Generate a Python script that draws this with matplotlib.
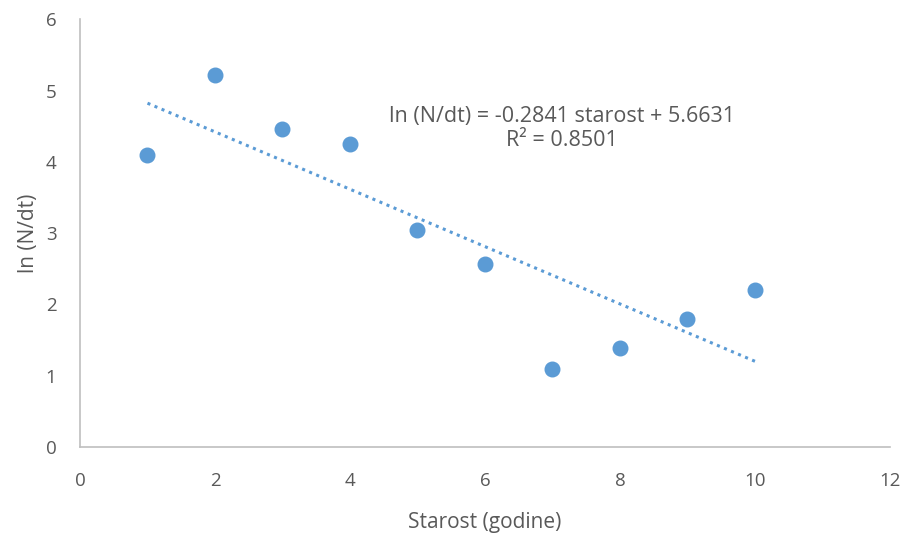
import numpy as np
import matplotlib
matplotlib.use('Agg')

import matplotlib.pyplot as plt

# age in years vs ln(N/dt)
starost = [1, 2, 3, 4, 5, 6, 7, 8, 9, 10]
ln_ndt = [4.10, 5.22, 4.46, 4.25, 3.05, 2.57, 1.10, 1.39, 1.79, 2.20]
eq_text = "ln (N/dt) = -0.2841 starost + 5.6631\nR² = 0.8501"

def main():
    plt.rcParams['font.family'] = ['Open Sans', 'DejaVu Sans']
    color = '#5B9BD5'
    txt = '#595959'

    fig = plt.figure(figsize=(9.06, 5.37), dpi=100)
    ax = fig.add_axes([0.0883, 0.1676, 0.894, 0.7964])

    ax.scatter(starost, ln_ndt, s=110, color=color, zorder=3)

    # linear trendline fitted from the points
    k, n = np.polyfit(starost, ln_ndt, 1)
    xs = np.array([min(starost), max(starost)])
    ax.plot(xs, k * xs + n, color=color, linestyle=(0, (1, 1.5)), linewidth=2.2, zorder=2)

    ax.text(7.14, 4.47, eq_text, ha='center', va='center', fontsize=15.5, color=txt,
            linespacing=1.2)

    ax.set_xlim(0, 12)
    ax.set_ylim(0, 6)
    ax.set_xticks(np.arange(0, 13, 2))
    ax.set_yticks(np.arange(0, 7, 1))
    ax.tick_params(length=0, labelsize=13.5, labelcolor=txt, pad=18)
    ax.tick_params(axis='y', pad=17)
    for s in ['top', 'right']:
        ax.spines[s].set_visible(False)
    for s in ['left', 'bottom']:
        ax.spines[s].set_color('#BFBFBF')
        ax.spines[s].set_linewidth(1.2)

    ax.set_xlabel("Starost (godine)", fontsize=15, color=txt, labelpad=16)
    ax.set_ylabel("ln (N/dt)", fontsize=15, color=txt, labelpad=5)

    fig.savefig('out.png', dpi=100)

main()
